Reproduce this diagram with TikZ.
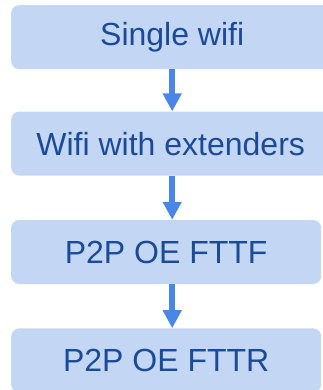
\documentclass[tikz,border=0pt]{standalone}
\usepackage{fontspec}
\setmainfont{Liberation Sans}
\usepackage{xcolor}
\definecolor{stagefill}{HTML}{C3D7F5}
\definecolor{stagetext}{HTML}{1B4A98}
\definecolor{stagearrow}{HTML}{4A86E8}
\usepackage{tikz}
\usetikzlibrary{arrows.meta, positioning}

\begin{document}
\begin{tikzpicture}[
  stage/.style={rectangle, fill=stagefill, rounded corners=8pt,
                minimum width=310pt, minimum height=64pt,
                inner sep=0pt, text=stagetext,
                font=\fontsize{32}{36}\selectfont},
  flow/.style={-{Triangle[width=18pt, length=18pt]},
               line width=6pt, color=stagearrow}
]
  \clip (0,0) rectangle (323pt,-390pt);

  \node[stage, minimum width=322pt, anchor=north west] (single)
    at (11pt,-5pt) {Single wifi};
  \node[stage, minimum width=319pt,
    below=42pt of single.south west, anchor=north west] (extend)
    {Wifi with extenders};
  \node[stage, below=44pt of extend.south west, anchor=north west] (fttf)
    {P2P OE FTTF};
  \node[stage, below=44pt of fttf.south west, anchor=north west] (fttr)
    {P2P OE FTTR};

  \draw[flow] (single.south) -- (extend.north -| single.south);
  \draw[flow] (extend.south -| single.south) -- (fttf.north -| single.south);
  \draw[flow] (fttf.south -| single.south) -- (fttr.north -| single.south);
\end{tikzpicture}
\end{document}
